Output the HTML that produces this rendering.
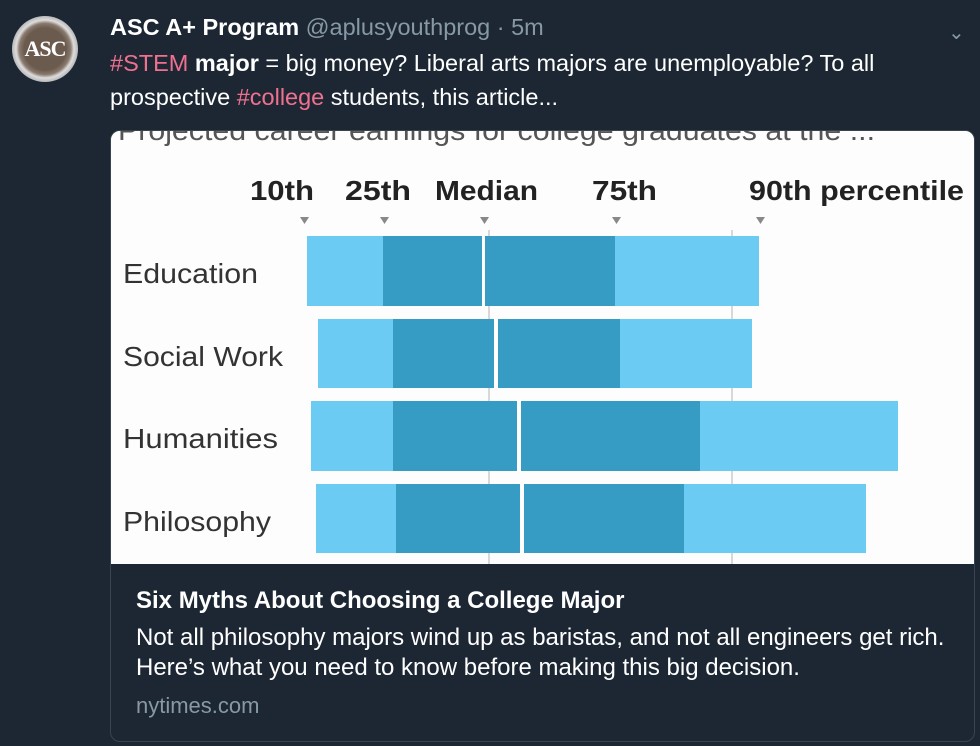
<!DOCTYPE html>
<html><head><meta charset="utf-8"><style>
html,body{margin:0;padding:0;background:#1c2733;width:980px;height:746px;overflow:hidden;font-family:"Liberation Sans",sans-serif;}
.abs{position:absolute;}
</style></head><body>
<div class="abs" style="left:12px;top:16px;width:66px;height:66px;border-radius:50%;background:radial-gradient(circle,#6b5a4e 0 45%,#8a7a6e 55%,#ddd 62%,#bbb 70%,#eee 78%,#999 100%);"></div>
<div class="abs" style="left:12px;top:36px;width:66px;text-align:center;font-family:'Liberation Serif',serif;font-weight:bold;font-size:22px;color:#fff;letter-spacing:-1px;">ASC</div>
<div class="abs" style="left:110px;top:14px;font-size:23.5px;color:#fff;white-space:nowrap;"><b>ASC A+ Program</b> <span style="color:#8899a6">@aplusyouthprog · 5m</span></div>
<div class="abs" style="left:948px;top:20px;color:#8899a6;font-size:20px;">&#8964;</div>
<div class="abs" style="left:110px;top:46px;font-size:23.5px;color:#fff;line-height:34px;white-space:nowrap;"><span style="color:#f0708f">#STEM</span> <b>major</b> = big money? Liberal arts majors are unemployable? To all<br>prospective <span style="color:#f0708f">#college</span> students, this article...</div>
<div class="abs" style="left:110px;top:130px;width:863px;height:610px;border:1px solid #38444d;border-radius:10px;overflow:hidden;background:#1c2733;">
<svg width="863" height="433" style="display:block;background:#fff" viewBox="111 131 863 433">
<rect x="111" y="131" width="863" height="433" fill="#fdfdfd"/>
<text x="118" y="140" font-size="28" fill="#555" textLength="757" lengthAdjust="spacingAndGlyphs">Projected career earnings for college graduates at the ...</text>
<g font-weight="bold" font-size="28" fill="#222">
<text x="250" y="200" textLength="64" lengthAdjust="spacingAndGlyphs">10th</text>
<text x="345" y="200" textLength="66" lengthAdjust="spacingAndGlyphs">25th</text>
<text x="435" y="200" textLength="103" lengthAdjust="spacingAndGlyphs">Median</text>
<text x="592" y="200" textLength="65" lengthAdjust="spacingAndGlyphs">75th</text>
<text x="749" y="200" textLength="215" lengthAdjust="spacingAndGlyphs">90th percentile</text>
</g>
<g fill="#888">
<path d="M300,217h9l-4.5,7z"/><path d="M380,217h9l-4.5,7z"/><path d="M480,217h9l-4.5,7z"/><path d="M612,217h9l-4.5,7z"/><path d="M756,217h9l-4.5,7z"/>
</g>
<g stroke="#ccc" stroke-width="1.5"><line x1="489" y1="230" x2="489" y2="564"/><line x1="732" y1="230" x2="732" y2="564"/></g>
<g font-size="28" fill="#333">
<text x="123" y="283" textLength="135" lengthAdjust="spacingAndGlyphs">Education</text>
<text x="123" y="366" textLength="160" lengthAdjust="spacingAndGlyphs">Social Work</text>
<text x="123" y="448" textLength="155" lengthAdjust="spacingAndGlyphs">Humanities</text>
<text x="123" y="531" textLength="148" lengthAdjust="spacingAndGlyphs">Philosophy</text>
</g>
<g>
<rect x="307" y="236" width="452" height="70" fill="#6bcbf3"/><rect x="383" y="236" width="232" height="70" fill="#369cc4"/><rect x="482" y="236" width="3" height="70" fill="#fff"/>
<rect x="318" y="319" width="434" height="69" fill="#6bcbf3"/><rect x="393" y="319" width="227" height="69" fill="#369cc4"/><rect x="494" y="319" width="4" height="69" fill="#fff"/>
<rect x="311" y="401" width="587" height="70" fill="#6bcbf3"/><rect x="393" y="401" width="307" height="70" fill="#369cc4"/><rect x="517" y="401" width="4" height="70" fill="#fff"/>
<rect x="316" y="484" width="550" height="69" fill="#6bcbf3"/><rect x="396" y="484" width="288" height="69" fill="#369cc4"/><rect x="520" y="484" width="4" height="69" fill="#fff"/>
</g>
</svg>
<div style="position:absolute;left:25px;top:456px;font-size:24px;font-weight:bold;color:#fff;white-space:nowrap;">Six Myths About Choosing a College Major</div>
<div style="position:absolute;left:25px;top:492px;font-size:24px;color:#fff;line-height:30px;white-space:nowrap;">Not all philosophy majors wind up as baristas, and not all engineers get rich.<br>Here’s what you need to know before making this big decision.</div>
<div style="position:absolute;left:25px;top:562px;font-size:22px;color:#8899a6;">nytimes.com</div>
</div>
</body></html>
